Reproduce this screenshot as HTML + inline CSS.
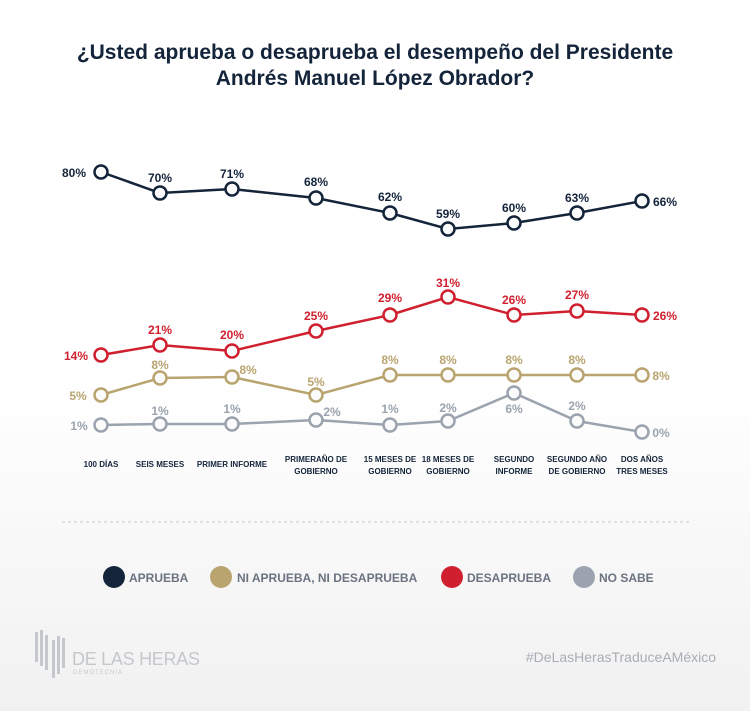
<!DOCTYPE html>
<html><head><meta charset="utf-8"><style>
body{margin:0;width:750px;height:711px;overflow:hidden;background:linear-gradient(#fff 0,#fff 380px,#f1f1f1 711px);font-family:"Liberation Sans",sans-serif;}
</style></head><body>
<svg width="750" height="711" xmlns="http://www.w3.org/2000/svg" font-family="Liberation Sans, sans-serif">
<text x="375" y="59" text-anchor="middle" font-size="21" font-weight="bold" fill="#14243a">¿Usted aprueba o desaprueba el desempeño del Presidente</text>
<text x="375" y="85" text-anchor="middle" font-size="21" font-weight="bold" fill="#14243a">Andrés Manuel López Obrador?</text>
<g fill="none" stroke-width="2.5">
<polyline stroke="#14243a" points="101,172 160,193 232,189 316,198 390,213 448,229 514,223 577,213 642,201"/>
<polyline stroke="#d0202f" points="101,355 160,345 232,351 316,331 390,315 448,297 514,315 577,311 642,315"/>
<polyline stroke="#b9a470" points="101,395 160,378 232,377 316,395 390,375 448,375 514,375 577,375 642,375"/>
<polyline stroke="#9aa3ae" points="101,425 160,424 232,424 316,420 390,425 448,421 514,393 577,421 642,432"/>
</g>
<g fill="#fbfbfb" stroke-width="2.5">
<g stroke="#14243a"><circle cx="101" cy="172" r="6.5"/><circle cx="160" cy="193" r="6.5"/><circle cx="232" cy="189" r="6.5"/><circle cx="316" cy="198" r="6.5"/><circle cx="390" cy="213" r="6.5"/><circle cx="448" cy="229" r="6.5"/><circle cx="514" cy="223" r="6.5"/><circle cx="577" cy="213" r="6.5"/><circle cx="642" cy="201" r="6.5"/></g>
<g stroke="#d0202f"><circle cx="101" cy="355" r="6.5"/><circle cx="160" cy="345" r="6.5"/><circle cx="232" cy="351" r="6.5"/><circle cx="316" cy="331" r="6.5"/><circle cx="390" cy="315" r="6.5"/><circle cx="448" cy="297" r="6.5"/><circle cx="514" cy="315" r="6.5"/><circle cx="577" cy="311" r="6.5"/><circle cx="642" cy="315" r="6.5"/></g>
<g stroke="#b9a470"><circle cx="101" cy="395" r="6.5"/><circle cx="160" cy="378" r="6.5"/><circle cx="232" cy="377" r="6.5"/><circle cx="316" cy="395" r="6.5"/><circle cx="390" cy="375" r="6.5"/><circle cx="448" cy="375" r="6.5"/><circle cx="514" cy="375" r="6.5"/><circle cx="577" cy="375" r="6.5"/><circle cx="642" cy="375" r="6.5"/></g>
<g stroke="#9aa3ae"><circle cx="101" cy="425" r="6.5"/><circle cx="160" cy="424" r="6.5"/><circle cx="232" cy="424" r="6.5"/><circle cx="316" cy="420" r="6.5"/><circle cx="390" cy="425" r="6.5"/><circle cx="448" cy="421" r="6.5"/><circle cx="514" cy="393" r="6.5"/><circle cx="577" cy="421" r="6.5"/><circle cx="642" cy="432" r="6.5"/></g>
</g>
<g font-size="12" font-weight="bold" text-anchor="middle" fill="#14243a">
<text x="74" y="177">80%</text><text x="160" y="182">70%</text><text x="232" y="178">71%</text><text x="316" y="186">68%</text><text x="390" y="201">62%</text><text x="448" y="218">59%</text><text x="514" y="212">60%</text><text x="577" y="202">63%</text><text x="665" y="206">66%</text>
</g>
<g font-size="12" font-weight="bold" text-anchor="middle" fill="#d0202f">
<text x="76" y="360">14%</text><text x="160" y="334">21%</text><text x="232" y="339">20%</text><text x="316" y="320">25%</text><text x="390" y="302">29%</text><text x="448" y="287">31%</text><text x="514" y="304">26%</text><text x="577" y="299">27%</text><text x="665" y="320">26%</text>
</g>
<g font-size="12" font-weight="bold" text-anchor="middle" fill="#b9a470">
<text x="78" y="400">5%</text><text x="160" y="369">8%</text><text x="248" y="374">8%</text><text x="316" y="386">5%</text><text x="390" y="364">8%</text><text x="448" y="364">8%</text><text x="514" y="364">8%</text><text x="577" y="364">8%</text><text x="661" y="380">8%</text>
</g>
<g font-size="12" font-weight="bold" text-anchor="middle" fill="#9aa3ae">
<text x="79" y="430">1%</text><text x="160" y="415">1%</text><text x="232" y="413">1%</text><text x="332" y="416">2%</text><text x="390" y="413">1%</text><text x="448" y="412">2%</text><text x="514" y="413">6%</text><text x="577" y="410">2%</text><text x="661" y="437">0%</text>
</g>
<g font-size="8" font-weight="bold" text-anchor="middle" fill="#14243a">
<text x="101" y="467">100 DÍAS</text><text x="160" y="467">SEIS MESES</text><text x="232" y="467">PRIMER INFORME</text>
<text x="316" y="462">PRIMERAÑO DE</text><text x="316" y="474">GOBIERNO</text>
<text x="390" y="462">15 MESES DE</text><text x="390" y="474">GOBIERNO</text>
<text x="448" y="462">18 MESES DE</text><text x="448" y="474">GOBIERNO</text>
<text x="514" y="462">SEGUNDO</text><text x="514" y="474">INFORME</text>
<text x="577" y="462">SEGUNDO AÑO</text><text x="577" y="474">DE GOBIERNO</text>
<text x="642" y="462">DOS AÑOS</text><text x="642" y="474">TRES MESES</text>
</g>
<line x1="62" y1="522" x2="692" y2="522" stroke="#ccc" stroke-dasharray="3,3"/>
<g font-size="12" font-weight="bold" fill="#6b7380">
<circle cx="114" cy="577" r="11" fill="#14243a"/><text x="129" y="582" fill="#6b7380">APRUEBA</text>
<circle cx="221" cy="577" r="11" fill="#b9a470"/><text x="237" y="582">NI APRUEBA, NI DESAPRUEBA</text>
<circle cx="452" cy="577" r="11" fill="#d0202f"/><text x="467" y="582">DESAPRUEBA</text>
<circle cx="584" cy="577" r="11" fill="#9aa3ae"/><text x="599" y="582">NO SABE</text>
</g>
<g fill="#c4c8cc">
<rect x="35" y="632" width="3" height="30"/><rect x="40" y="630" width="3" height="36"/><rect x="45" y="635" width="3" height="35"/><rect x="52" y="640" width="3" height="38"/><rect x="57" y="636" width="3" height="38"/><rect x="62" y="638" width="3" height="30"/>
</g>
<text x="72" y="665" font-size="18" fill="#c4c8cc" textLength="128">DE LAS HERAS</text>
<text x="73" y="674" font-size="6" fill="#c4c8cc" letter-spacing="1">DEMOTECNIA</text>
<text x="716" y="662" text-anchor="end" font-size="14" fill="#a8aeb5">#DeLasHerasTraduceAMéxico</text>
</svg>
</body></html>
